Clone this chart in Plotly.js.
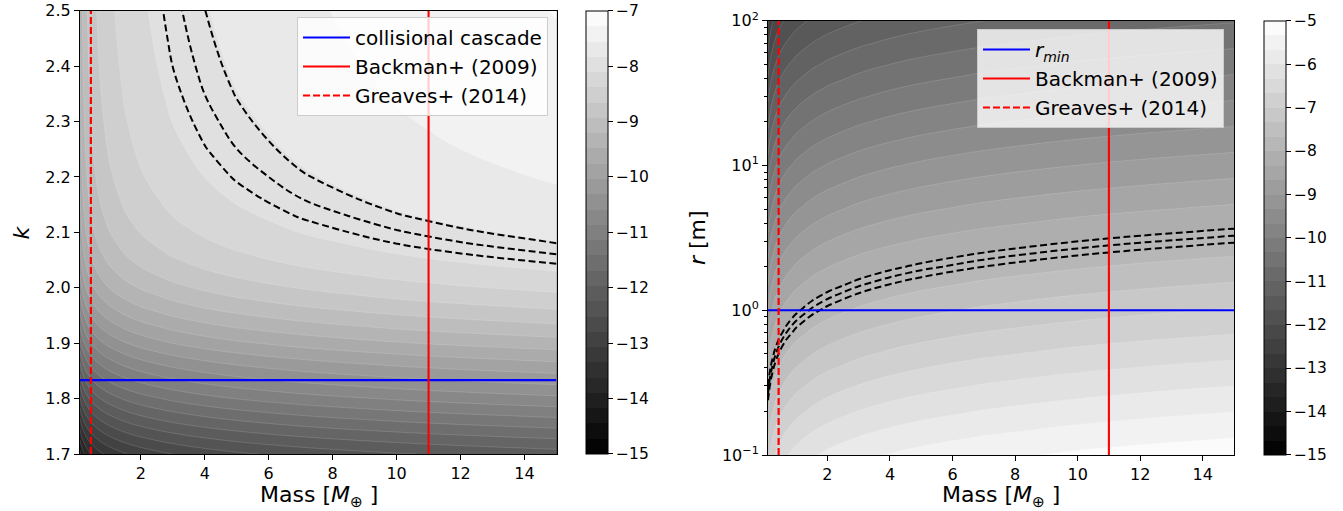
<!DOCTYPE html>
<html>
<head>
<meta charset="utf-8">
<script src="https://cdn.plot.ly/plotly-3.0.1.min.js"></script>
<style>
html,body{margin:0;padding:0;background:#fff;}
#chart{width:1343px;height:511px;}
</style>
</head>
<body>
<div id="chart"></div>
<script>
// ---------------- data read / ----------------
// mass grid (Earth masses) shared by both panels
const massGrid = [0.1, 0.15, 0.2, 0.3, 0.4, 0.5, 0.7, 1, 1.5, 2, 3, 4, 5, 7, 10, 12, 15];

// left panel: mass part and slope-k part of the field (log10 values)
const leftMassTerm = [-1, -0.824, -0.699, -0.523, -0.398, -0.301, -0.155, 0, 0.176, 0.301, 0.477, 0.602, 0.699, 0.845, 1, 1.079, 1.176];
const slopeK = [1.70, 1.75, 1.80, 1.85, 1.90, 1.93, 1.96, 1.98, 2.00, 2.02, 2.04, 2.06, 2.08, 2.10, 2.13, 2.16, 2.20, 2.25, 2.30, 2.35, 2.40, 2.45, 2.50];
const slopeTerm = [-13.265, -12.539, -11.829, -11.146, -10.506, -10.156, -9.839, -9.652, -9.485, -9.339, -9.214, -9.108, -9.018, -8.943, -8.851, -8.778, -8.702, -8.630, -8.575, -8.531, -8.496, -8.468, -8.444];

// right panel: mass part and size-r part of the field (log10 values)
const rightMassTerm = [-0.93, -0.766, -0.650, -0.486, -0.370, -0.280, -0.144, 0, 0.164, 0.280, 0.444, 0.560, 0.650, 0.786, 0.93, 1.003, 1.094];
const sizeR = [0.1, 0.15, 0.2, 0.3, 0.4, 0.5, 0.7, 1, 1.5, 2, 3, 4, 5, 7, 10, 15, 20, 30, 40, 50, 70, 100];
const sizeTerm = [-6.206, -6.533, -6.766, -7.093, -7.326, -7.506, -7.778, -8.066, -8.393, -8.626, -8.953, -9.186, -9.366, -9.638, -9.926, -10.253, -10.486, -10.813, -11.046, -11.226, -11.498, -11.786];

// dashed contour levels (observed value and its range)
const dashLevels = [-8.02, -7.93, -7.84];

// colour levels of the two colour bars
const leftLevels = {start: -15, end: -7, bands: 29};
const rightLevels = {start: -15, end: -5, bands: 30};
const leftCbTicks = [-15, -14, -13, -12, -11, -10, -9, -8, -7];
const rightCbTicks = [-15, -14, -13, -12, -11, -10, -9, -8, -7, -6, -5];

// reference lines
const backmanMass = 11;
const greavesMass = 0.44;
const cascadeK = 1.8333;
const rMin = 1;

// axis ranges
const massRange = [0.1, 15];
const kRange = [1.7, 2.5];
const rRange = [0.1, 100];

const leftNames = ['collisional cascade', 'Backman+ (2009)', 'Greaves+ (2014)'];
const rightNames = ['<i>r</i><sub><i>min</i></sub>', 'Backman+ (2009)', 'Greaves+ (2014)'];
const massTitle = 'Mass [<i>M</i><sub>⊕</sub> ]';
const kTitle = '<i>k</i>';
const rTitle = '<i>r</i> [m]';

// ---------------- tables for the library ----------------
const zLeft = slopeTerm.map(s => leftMassTerm.map(m => s + m));
const zRight = sizeTerm.map(s => rightMassTerm.map(m => s + m));

const FONT = 'DejaVu Sans';
const W = 1343, H = 511;
const bandLine = {color: 'rgba(255,255,255,0.28)', width: 0.5};

// grey scale so that each filled band gets the grey of its mid value
function fillScale(levels) {
  const n = levels.bands + 1;
  return [[0, '#000000'], [0.5 / n, '#000000'], [(n - 0.5) / n, '#ffffff'], [1, '#ffffff']];
}
// stepped grey scale for the colour bars (one step per filled band)
function steppedGray(n) {
  const cs = [];
  for (let j = 0; j < n; j++) {
    const g = Math.round(255 * (j + 0.5) / n);
    const c = 'rgb(' + g + ',' + g + ',' + g + ')';
    cs.push([j / n, c]);
    cs.push([(j + 1) / n, c]);
  }
  return cs;
}

function cbar(x, top, bottom, ticks) {
  return {
    x: x / W, xanchor: 'left', xref: 'paper', xpad: 0,
    y: 1 - (top + bottom) / 2 / H, yanchor: 'middle', ypad: 0,
    len: bottom - top, lenmode: 'pixels',
    thickness: 22, thicknessmode: 'pixels',
    outlinecolor: '#000', outlinewidth: 1,
    ticks: 'outside', ticklen: 5, tickwidth: 1, tickcolor: '#000',
    tickmode: 'array', tickvals: ticks,
    tickfont: {family: FONT, size: 15.5, color: '#000'}
  };
}

function scaleHolder(levels, xa, ya, bar) {
  return {
    type: 'scatter', mode: 'markers', x: [null, null], y: [null, null],
    xaxis: xa, yaxis: ya,
    marker: {
      color: [levels.start, levels.end], cmin: levels.start, cmax: levels.end,
      colorscale: steppedGray(levels.bands), showscale: true, colorbar: bar, size: 1
    },
    showlegend: false, hoverinfo: 'skip'
  };
}

function fillTrace(x, y, z, levels, xa, ya) {
  return {
    type: 'contour', x: x, y: y, z: z, xaxis: xa, yaxis: ya,
    autocontour: false,
    contours: {start: levels.start, end: levels.end, size: (levels.end - levels.start) / levels.bands, coloring: 'fill', showlines: true},
    colorscale: fillScale(levels), line: bandLine, showscale: false,
    hoverinfo: 'skip', showlegend: false
  };
}

function dashTrace(x, y, z, xa, ya) {
  return {
    type: 'contour', x: x, y: y, z: z, xaxis: xa, yaxis: ya,
    autocontour: false,
    contours: {start: dashLevels[0], end: dashLevels[2], size: dashLevels[1] - dashLevels[0], coloring: 'none'},
    line: {color: '#000', width: 2, dash: '7px,3.5px', smoothing: 1},
    showscale: false, hoverinfo: 'skip', showlegend: false
  };
}

function lineTrace(x, y, xa, ya, name, leg, color, dash) {
  return {
    type: 'scatter', mode: 'lines', x: x, y: y, xaxis: xa, yaxis: ya,
    name: name, legend: leg,
    line: {color: color, width: dash ? 2.2 : 2.1, dash: dash || 'solid'}, hoverinfo: 'skip'
  };
}

const traces = [
  fillTrace(massGrid, slopeK, zLeft, leftLevels, 'x', 'y'),
  scaleHolder(leftLevels, 'x', 'y', cbar(586, 10.7, 454, leftCbTicks)),
  dashTrace(massGrid, slopeK, zLeft, 'x', 'y'),
  lineTrace(massRange, [cascadeK, cascadeK], 'x', 'y', leftNames[0], 'legend', '#0000ff'),
  lineTrace([backmanMass, backmanMass], kRange, 'x', 'y', leftNames[1], 'legend', '#ff0000'),
  lineTrace([greavesMass, greavesMass], kRange, 'x', 'y', leftNames[2], 'legend', '#ff0000', '7px,3px'),

  fillTrace(massGrid, sizeR, zRight, rightLevels, 'x2', 'y2'),
  scaleHolder(rightLevels, 'x2', 'y2', cbar(1264, 20.7, 455, rightCbTicks)),
  dashTrace(massGrid, sizeR, zRight, 'x2', 'y2'),
  lineTrace(massRange, [rMin, rMin], 'x2', 'y2', rightNames[0], 'legend2', '#0000ff'),
  lineTrace([backmanMass, backmanMass], rRange, 'x2', 'y2', rightNames[1], 'legend2', '#ff0000'),
  lineTrace([greavesMass, greavesMass], rRange, 'x2', 'y2', rightNames[2], 'legend2', '#ff0000', '7px,3px')
];

const minorLog = [];
[0.1, 1, 10].forEach(d => { for (let i = 2; i <= 9; i++) minorLog.push(+(d * i).toPrecision(3)); });

const tickFont = {family: FONT, size: 16, color: '#000'};
const titleFont = {family: FONT, size: 22, color: '#000'};
const axisCommon = {
  showline: true, linecolor: '#000', linewidth: 1, mirror: true,
  ticks: 'outside', ticklen: 5, tickwidth: 1, tickcolor: '#000',
  showgrid: false, zeroline: false, tickfont: tickFont
};
const legendCommon = {
  bgcolor: 'rgba(255,255,255,0.8)', bordercolor: '#cccccc', borderwidth: 1,
  font: {family: FONT, size: 20, color: '#000'}, itemwidth: 47,
  xanchor: 'right', yanchor: 'top', tracegroupgap: 0
};

function axisTitle(text, xPx, yPx, angle) {
  return {
    text: text, xref: 'paper', yref: 'paper', x: xPx / W, y: 1 - yPx / H,
    xanchor: 'center', yanchor: 'middle', showarrow: false, textangle: angle || 0,
    borderpad: 0, font: titleFont
  };
}

const layout = {
  width: W, height: H,
  margin: {l: 0, r: 0, t: 0, b: 0},
  paper_bgcolor: '#fff', plot_bgcolor: '#fff',
  font: {family: FONT, color: '#000'},
  xaxis: Object.assign({}, axisCommon, {
    domain: [80 / W, 556.5 / W], range: massRange, dtick: 2, tick0: 0, anchor: 'y'
  }),
  yaxis: Object.assign({}, axisCommon, {
    domain: [1 - 454 / H, 1 - 10.7 / H], range: kRange, dtick: 0.1, tick0: 0, tickformat: '.1f', anchor: 'x'
  }),
  xaxis2: Object.assign({}, axisCommon, {
    domain: [768 / W, 1234 / W], range: massRange, dtick: 2, tick0: 0, anchor: 'y2'
  }),
  yaxis2: Object.assign({}, axisCommon, {
    domain: [1 - 455 / H, 1 - 20.7 / H], type: 'log', range: [Math.log10(rRange[0]), Math.log10(rRange[1])],
    anchor: 'x2',
    tickmode: 'array', tickvals: [0.1, 1, 10, 100],
    ticktext: ['10<sup>\u22121</sup>', '10<sup>0</sup>', '10<sup>1</sup>', '10<sup>2</sup>'],
    minor: {tickmode: 'array', tickvals: minorLog, ticks: 'outside', ticklen: 3, tickwidth: 1, tickcolor: '#000', showgrid: false}
  }),
  legend: Object.assign({}, legendCommon, {x: 548 / W, y: 1 - 17 / H}),
  legend2: Object.assign({}, legendCommon, {x: 1224 / W, y: 1 - 29 / H}),
  annotations: [
    axisTitle(massTitle, 318.5, 496.5),
    axisTitle(massTitle, 1001, 496.5),
    axisTitle(kTitle, 21, 232.5, -90),
    axisTitle(rTitle, 697, 238, -90)
  ]
};

Plotly.newPlot('chart', traces, layout, {staticPlot: true, displayModeBar: false});
</script>
</body>
</html>
